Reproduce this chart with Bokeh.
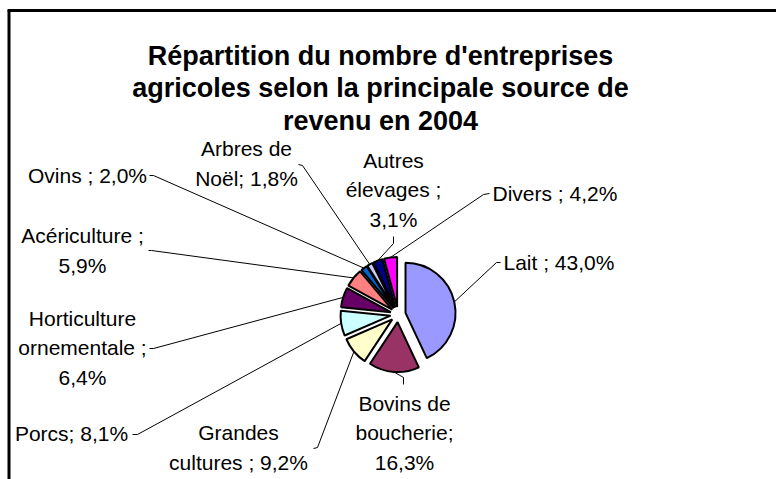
import math
from bokeh.plotting import figure
from bokeh.models import Range1d, ColumnDataSource
from bokeh.embed import file_html
from bokeh.resources import INLINE
from bokeh.core.properties import value

# ---------------- data ----------------
categories = ["Lait", "Bovins de boucherie", "Grandes cultures", "Porcs",
              "Horticulture ornementale", "Acériculture", "Ovins",
              "Arbres de Noël", "Autres élevages", "Divers"]
shares = [43.0, 16.3, 9.2, 8.1, 6.4, 5.9, 2.0, 1.8, 3.1, 4.2]
label_templates = ["Lait ; {}", "Bovins de\nboucherie;\n{}", "Grandes\ncultures ; {}",
                   "Porcs; {}", "Horticulture\nornementale ;\n{}", "Acériculture ;\n{}",
                   "Ovins ; {}", "Arbres de\nNoël; {}", "Autres\nélevages ;\n{}",
                   "Divers ; {}"]
colors = ["#9999FF", "#993366", "#FFFFCC", "#CCFFFF", "#660066",
          "#FF8080", "#0066CC", "#CCCCFF", "#000080", "#FF00FF"]
title_lines = ["Répartition du nombre d'entreprises",
               "agricoles selon la principale source de",
               "revenu en 2004"]

# ---------------- layout (screen px, page origin) ----------------
W, H = 776, 479
def Y(sy):
    return H - sy

CX, CY = 397.6, 314.0
R = 50.0
EXPLODE = 7.6
FONT = "Liberation Sans"
LBL_SIZE = "21px"
LINE_H = 29.5

label_pos = [(503, 262, "left"), (404, 432, "center"), (238, 447, "center"),
             (71, 433, "center"), (82, 347, "center"), (82, 250, "center"),
             (87, 175, "center"), (246, 163, "center"), (393, 189, "center"),
             (492, 193, "left")]
leader_pts = [((500, 262), (496, 262)), ((403, 384), (403, 377)),
              ((313, 448), (317, 447)), ((132, 434), (137, 434)),
              ((149, 348), (153, 348)), ((148, 250), (151, 250)),
              ((149, 175), (153, 175)), ((298, 164), (302, 165)),
              ((393, 236), (393, 243)), ((489, 193), (483, 194))]

p = figure(width=W, height=H, output_backend="svg", toolbar_location=None,
           x_range=Range1d(0, W), y_range=Range1d(0, H),
           min_border=0, outline_line_color=None)
p.axis.visible = False
p.grid.visible = False
p.background_fill_color = "white"
p.border_fill_color = "white"

# frame (top and left sides visible)
p.segment(x0=[8.5, 7], y0=[Y(10), Y(10)], x1=[8.5, W], y1=[0, Y(10)],
          line_color="black", line_width=3)

# wedges
total = sum(shares)
xs, ys, starts, ends, mids = [], [], [], [], []
cum = 0.0
for s in shares:
    a_start = 90 - (cum + s) / total * 360
    a_end = 90 - cum / total * 360
    mid = math.radians((a_start + a_end) / 2)
    xs.append(CX + EXPLODE * math.cos(mid))
    ys.append(Y(CY) + EXPLODE * math.sin(mid))
    starts.append(math.radians(a_start))
    ends.append(math.radians(a_end))
    mids.append(mid)
    cum += s

src = ColumnDataSource(dict(x=xs, y=ys, start=starts, end=ends, color=colors, cat=categories))
p.wedge(x="x", y="y", radius=R, start_angle="start", end_angle="end",
        fill_color="color", line_color="black", line_width=2, source=src)

# leaders
lx, ly = [], []
for i, (anchor, elbow) in enumerate(leader_pts):
    ex = xs[i] + R * math.cos(mids[i])
    ey = ys[i] + R * math.sin(mids[i])
    lx.append([anchor[0], elbow[0], ex])
    ly.append([Y(anchor[1]), Y(elbow[1]), ey])
p.multi_line(xs=lx, ys=ly, line_color="black", line_width=1)

# labels
tx, ty, tt, ta = [], [], [], []
for i, tpl in enumerate(label_templates):
    txt = tpl.format(("%.1f" % shares[i]).replace(".", ",") + "%")
    lines = txt.split("\n")
    x0, yc, align = label_pos[i]
    n = len(lines)
    for k, ln in enumerate(lines):
        tx.append(x0)
        ty.append(Y(yc + (k - (n - 1) / 2) * LINE_H))
        tt.append(ln)
        ta.append(align)
lsrc = ColumnDataSource(dict(x=tx, y=ty, text=tt, align=ta))
p.text(x="x", y="y", text="text", text_align="align", text_baseline="middle",
       text_font=value(FONT), text_font_size=LBL_SIZE, text_color="black", source=lsrc)

# title
title_base = [55, 87.5, 120]
p.text(x=[380] * 3, y=[Y(b) for b in title_base], text=title_lines,
       text_align="center", text_baseline="alphabetic", text_font=value(FONT),
       text_font_size="27px", text_font_style="bold", text_color="black")

open("out.html", "w").write(file_html(p, INLINE))
